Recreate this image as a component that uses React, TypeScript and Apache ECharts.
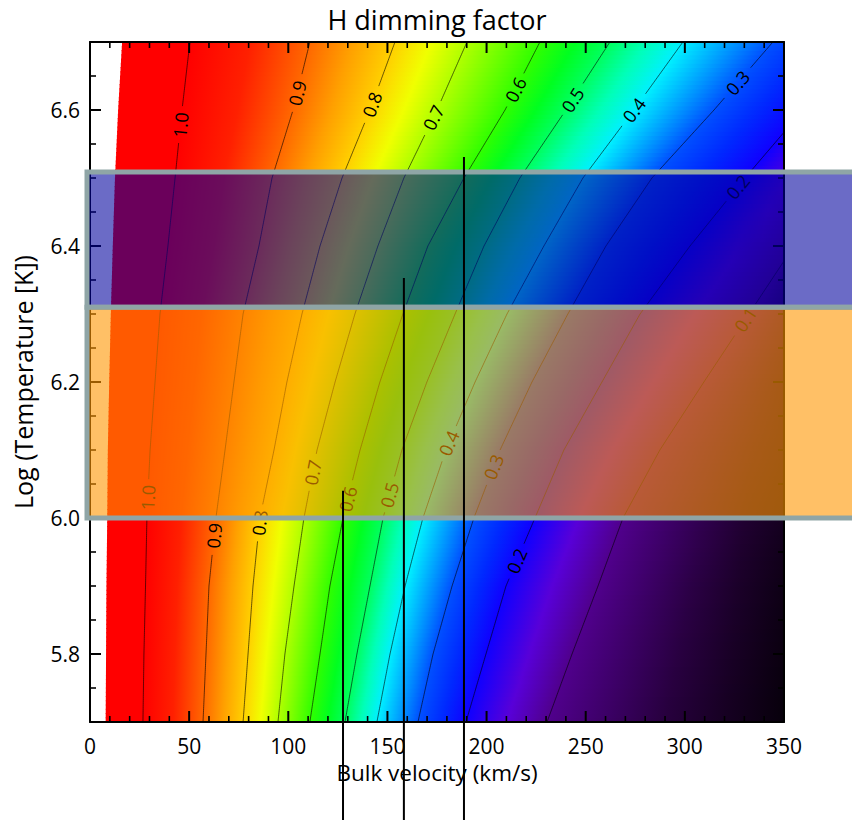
import React, { useEffect, useRef } from "react";
import * as echarts from "echarts";

// ---- data ----
const TITLE = "H dimming factor";
const X_NAME = "Bulk velocity (km/s)";
const Y_NAME = "Log (Temperature [K])";
const X_MIN = 0;
const X_MAX = 350;
const Y_MIN = 5.7;
const Y_MAX = 6.7;
const Y_TICKS = [5.8, 6.0, 6.2, 6.4, 6.6];
const X_MAJOR_STEP = 50;
const X_MINOR_STEP = 10;
const Y_MINOR_STEP = 0.05;

// temperature rows (log T) at which contour crossings were read
const TEMPS = [5.7, 5.8, 5.9, 6.0, 6.1, 6.2, 6.3, 6.4, 6.5, 6.6, 6.7];
const LEVELS = [1.0, 0.9, 0.8, 0.7, 0.6, 0.5, 0.4, 0.3, 0.2, 0.1];
// velocity (km/s) of each contour level at each temperature row
const C10 = [26.7, 27.2, 28.0, 28.7, 30.3, 32.8, 35.3, 39.3, 42.9, 46.4, 50.4];
const C09 = [57.0, 58.5, 60.0, 63.5, 68.1, 72.6, 77.2, 85.2, 91.8, 102.4, 110.9];
const C08 = [77.2, 79.7, 82.2, 85.7, 92.8, 99.3, 106.9, 116.0, 127.1, 141.2, 153.8];
const C07 = [94.8, 98.3, 102.9, 107.9, 114.5, 123.6, 133.6, 145.2, 158.3, 175.0, 190.1];
const C06 = [110.9, 116.0, 121.0, 127.6, 136.2, 146.2, 157.8, 170.4, 188.6, 209.3, 226.9];
const C05 = [128.6, 134.6, 141.2, 147.8, 157.3, 169.9, 184.1, 198.7, 216.8, 240.0, 262.2];
const C04 = [144.7, 151.3, 158.9, 167.9, 179.5, 194.2, 210.3, 228.9, 248.6, 274.3, 299.0];
const C03 = [165.4, 173.0, 182.6, 193.6, 206.8, 222.9, 241.0, 260.2, 283.4, 314.7, 344.4];
const C02 = [189.6, 199.7, 209.8, 224.4, 239.0, 258.2, 277.4, 302.6, 330.3, 359.6, 388.8];
const C01 = [230.5, 243.1, 256.2, 268.8, 287.4, 309.6, 332.3, 355.0, 377.7, 400.0, 423.0];
const CONTOURS = [C10, C09, C08, C07, C06, C05, C04, C03, C02, C01];
// velocity where the computed field begins, per row
const START_V = [7.9, 8.1, 8.3, 8.7, 9.0, 9.7, 10.5, 11.5, 12.6, 14.2, 16.2];
// dimming factor at 350 km/s, per row
const EDGE_VAL = [0.01, 0.015, 0.02, 0.03, 0.04, 0.05, 0.07, 0.1, 0.14, 0.2, 0.29];

// contour labels: level and temperature where each sits
const LABEL_LEVEL = [1.0, 0.9, 0.8, 0.7, 0.6, 0.5, 0.4, 0.3, 0.2, 0.1, 1.0, 0.7, 0.6, 0.5, 0.4, 0.3, 0.9, 0.8, 0.2];
const LABEL_T = [6.578, 6.625, 6.608, 6.589, 6.63, 6.615, 6.6, 6.64, 6.487, 6.292, 6.03, 6.067, 6.028, 6.034, 6.11, 6.075, 5.974, 5.993, 5.937];

// highlighted temperature bands
const BAND_LOW = [6.31, 6.0];
const BAND_HIGH = [6.509, 6.31];
// vertical marker lines
const LINE_V = [127.6, 158.3, 188.6];
const LINE_TOP_T = [6.04, 6.353, 6.531];

// ---- styles ----
const FONT = '"Open Sans", "Noto Sans", sans-serif';
const BAND_FILL = ["rgba(0,0,157,0.58)", "rgba(255,150,0,0.6)"];
const BAND_STROKE = "#8fa5a6";
const COLORMAP: [number, string][] = [
  [0.0, "#000000"], [0.05, "#220034"], [0.1, "#50008c"], [0.15, "#5800d8"],
  [0.2, "#1000ff"], [0.25, "#0028ff"], [0.3, "#0050ff"], [0.35, "#00a0ff"],
  [0.4, "#00f0ff"], [0.45, "#00ffb8"], [0.5, "#00ff60"], [0.55, "#00ff20"],
  [0.6, "#30ff00"], [0.65, "#70ff00"], [0.7, "#b0ff00"], [0.75, "#f0ff00"],
  [0.8, "#ffd000"], [0.85, "#ffa000"], [0.9, "#ff6800"], [0.95, "#ff2000"],
  [1.0, "#ff0000"],
];

function hexToRgb(h: string): number[] {
  const n = parseInt(h.slice(1), 16);
  return [(n >> 16) & 255, (n >> 8) & 255, n & 255];
}
const CMAP_RGB = COLORMAP.map(([v, h]) => [v, hexToRgb(h)] as [number, number[]]);

function colorOf(val: number): string {
  if (val >= 1) return "rgb(255,0,0)";
  if (val <= 0) return "rgb(0,0,0)";
  for (let i = 0; i < CMAP_RGB.length - 1; i++) {
    const [a, ca] = CMAP_RGB[i];
    const [b, cb] = CMAP_RGB[i + 1];
    if (val <= b) {
      const f = (val - a) / (b - a);
      const c = ca.map((x, j) => Math.round(x + (cb[j] - x) * f));
      return `rgb(${c[0]},${c[1]},${c[2]})`;
    }
  }
  return "rgb(255,0,0)";
}

function rowIndex(t: number): [number, number] {
  let i = 0;
  while (i < TEMPS.length - 2 && t > TEMPS[i + 1]) i++;
  const f = (t - TEMPS[i]) / (TEMPS[i + 1] - TEMPS[i]);
  return [i, f];
}
function interpRow(arr: number[], t: number): number {
  const [i, f] = rowIndex(t);
  return arr[i] + (arr[i + 1] - arr[i]) * f;
}

function profile(t: number): number[][] {
  const start = interpRow(START_V, t);
  const edge = interpRow(EDGE_VAL, t);
  const pts: number[][] = [[start, 1.0]];
  CONTOURS.forEach((c, k) => pts.push([interpRow(c, t), LEVELS[k]]));
  const out: number[][] = [];
  for (let j = 0; j < pts.length; j++) {
    if (pts[j][0] <= X_MAX) out.push(pts[j]);
    else {
      const p = pts[j - 1];
      const q = pts[j];
      const f = (X_MAX - p[0]) / (q[0] - p[0]);
      out.push([X_MAX, p[1] + (q[1] - p[1]) * f]);
      return out;
    }
  }
  out.push([X_MAX, edge]);
  return out;
}

function gradientStops(prof: number[][]) {
  const start = prof[0][0];
  const span = X_MAX - start;
  const stops: { offset: number; color: string }[] = [];
  for (let j = 0; j < prof.length - 1; j++) {
    const [v0, a0] = prof[j];
    const [v1, a1] = prof[j + 1];
    const n = 4;
    for (let s = 0; s < n; s++) {
      const v = v0 + ((v1 - v0) * s) / n;
      const a = a0 + ((a1 - a0) * s) / n;
      stops.push({ offset: Math.min(1, Math.max(0, (v - start) / span)), color: colorOf(a) });
    }
  }
  const last = prof[prof.length - 1];
  stops.push({ offset: 1, color: colorOf(last[1]) });
  return stops;
}

export default function App() {
  const ref = useRef<HTMLDivElement>(null);
  useEffect(() => {
    if (!ref.current) return;
    const chart = echarts.init(ref.current, undefined, { renderer: "svg" });

    const heatSeries = {
      type: "custom",
      z: 1,
      silent: true,
      xAxisIndex: 0,
      yAxisIndex: 0,
      data: TEMPS.slice(1).map((t, i) => [0, TEMPS[i]]),
      renderItem: (params: any, api: any) => {
        const i = params.dataIndex;
        const t0 = TEMPS[i];
        const t1 = TEMPS[i + 1];
        const N = 16;
        const children: any[] = [];
        for (let j = 0; j < N; j++) {
          const ta = t0 + ((t1 - t0) * j) / N;
          const tb = t0 + ((t1 - t0) * (j + 1)) / N;
          const prof = profile((ta + tb) / 2);
          const start = prof[0][0];
          const pA = api.coord([start, tb]);
          const pB = api.coord([X_MAX, ta]);
          children.push({
            type: "rect",
            shape: { x: pA[0], y: pA[1] - 0.5, width: pB[0] - pA[0], height: pB[1] - pA[1] + 1 },
            style: {
              fill: { type: "linear", x: 0, y: 0, x2: 1, y2: 0, colorStops: gradientStops(prof) },
            },
          });
        }
        return { type: "group", children };
      },
    };

    const contourSeries = {
      type: "custom",
      z: 2,
      silent: true,
      xAxisIndex: 0,
      yAxisIndex: 0,
      data: LEVELS.map((l) => [0, l]),
      renderItem: (params: any, api: any) => {
        const k = params.dataIndex;
        const level = LEVELS[k];
        const raw = TEMPS.map((t, i) => [CONTOURS[k][i], t]);
        const clipped: number[][] = [];
        for (let i = 0; i < raw.length; i++) {
          const p = raw[i];
          const prev = raw[i - 1];
          const cross = () => {
            const f = (X_MAX - prev[0]) / (p[0] - prev[0]);
            return [X_MAX, prev[1] + (p[1] - prev[1]) * f];
          };
          if (p[0] <= X_MAX) {
            if (i > 0 && prev[0] > X_MAX) clipped.push(cross());
            clipped.push(p);
          } else if (i > 0 && prev[0] <= X_MAX) {
            clipped.push(cross());
          }
        }
        const px = clipped.map((p) => api.coord(p));
        const labels: any[] = [];
        const labelPos: number[][] = [];
        LABEL_LEVEL.forEach((lv, li) => {
          if (Math.abs(lv - level) > 1e-6) return;
          const t = LABEL_T[li];
          const pos = api.coord([interpRow(CONTOURS[k], t), t]);
          const p0 = api.coord([interpRow(CONTOURS[k], t - 0.01), t - 0.01]);
          const p1 = api.coord([interpRow(CONTOURS[k], t + 0.01), t + 0.01]);
          const ang = Math.atan2(-(p1[1] - p0[1]), p1[0] - p0[0]);
          labelPos.push(pos);
          labels.push({
            type: "text",
            x: pos[0],
            y: pos[1],
            rotation: ang,
            z2: 5,
            style: {
              text: level.toFixed(1),
              fill: "#000",
              font: `18px ${FONT}`,
              align: "center",
              verticalAlign: "middle",
              textAlign: "center",
              textVerticalAlign: "middle",
            },
          });
        });
        const R = 18;
        const near = (q: number[]) =>
          labelPos.some((lp) => Math.hypot(q[0] - lp[0], q[1] - lp[1]) < R);
        const segs: number[][][] = [];
        let cur: number[][] = [];
        for (let i = 0; i < px.length - 1; i++) {
          const a = px[i];
          const b = px[i + 1];
          const n = Math.max(1, Math.ceil(Math.hypot(b[0] - a[0], b[1] - a[1]) / 2));
          for (let s = 0; s < n; s++) {
            const q = [a[0] + ((b[0] - a[0]) * s) / n, a[1] + ((b[1] - a[1]) * s) / n];
            if (near(q)) {
              if (cur.length > 1) segs.push(cur);
              cur = [];
            } else cur.push(q);
          }
        }
        const lastP = px[px.length - 1];
        if (lastP && !near(lastP)) cur.push(lastP);
        if (cur.length > 1) segs.push(cur);
        const lines = segs.map((seg) => ({
          type: "polyline",
          shape: { points: seg },
          style: { stroke: "rgba(0,0,0,0.85)", lineWidth: 0.7, fill: null },
        }));
        return { type: "group", children: [...lines, ...labels] };
      },
    };

    const bandSeries = {
      type: "custom",
      z: 5,
      silent: true,
      xAxisIndex: 0,
      yAxisIndex: 0,
      data: BAND_LOW.map((lo, i) => [0, lo, BAND_HIGH[i]]),
      renderItem: (params: any, api: any) => {
        const i = params.dataIndex;
        const yTop = api.coord([0, BAND_HIGH[i]])[1];
        const yBot = api.coord([0, BAND_LOW[i]])[1];
        const x0 = params.coordSys.x - 3;
        return {
          type: "rect",
          shape: { x: x0, y: yTop, width: api.getWidth() - x0 + 20, height: yBot - yTop },
          style: { fill: BAND_FILL[i], stroke: BAND_STROKE, lineWidth: 5 },
        };
      },
    };

    const vlineSeries = {
      type: "custom",
      z: 6,
      silent: true,
      xAxisIndex: 0,
      yAxisIndex: 0,
      data: LINE_V.map((v, i) => [v, LINE_TOP_T[i]]),
      renderItem: (params: any, api: any) => {
        const p = api.coord([api.value(0), api.value(1)]);
        return {
          type: "line",
          shape: { x1: p[0], y1: p[1], x2: p[0], y2: api.getHeight() },
          style: { stroke: "#000", lineWidth: 2 },
        };
      },
    };

    const axisLine = { show: true, onZero: false, lineStyle: { color: "#000", width: 2 } };
    const baseX = {
      type: "value",
      min: X_MIN,
      max: X_MAX,
      interval: X_MAJOR_STEP,
      z: 4,
      axisLine,
      axisTick: { show: false },
      minorTick: { show: false },
      splitLine: { show: false },
      minorSplitLine: { show: false },
    };
    const baseY = {
      type: "value",
      min: Y_MIN,
      max: Y_MAX,
      interval: Y_MINOR_STEP,
      z: 4,
      axisLine,
      axisTick: { show: false },
      splitLine: { show: false },
    };

    chart.setOption({
      animation: false,
      backgroundColor: "#fff",
      grid: { left: 90, top: 42, width: 694, height: 680, outerBoundsMode: "none", containLabel: false },
      xAxis: [
        {
          ...baseX,
          position: "bottom",
          axisLabel: { show: true, fontSize: 21, fontFamily: FONT, color: "#000", margin: 13 },
          name: X_NAME,
          nameLocation: "middle",
          nameGap: 38,
          nameTextStyle: { fontSize: 22.5, fontFamily: FONT, color: "#000" },
        },
        { ...baseX, position: "top", axisLabel: { show: false } },
      ],
      yAxis: [
        {
          ...baseY,
          position: "left",
          axisLabel: {
            show: true,
            customValues: Y_TICKS,
            formatter: (v: number) => v.toFixed(1),
            fontSize: 21,
            fontFamily: FONT,
            color: "#000",
            margin: 10,
          },
          name: Y_NAME,
          nameLocation: "middle",
          nameGap: 55,
          nameTextStyle: { fontSize: 25, fontFamily: FONT, color: "#000" },
        },
        {
          ...baseY,
          position: "right",
          axisLabel: { show: false },
        },
      ],
      series: [heatSeries, contourSeries, bandSeries, vlineSeries],
    });

    // inward ticks on all four sides, positioned through the axis scale (convertToPixel)
    const ticks: any[] = [];
    const toPx = (v: number, t: number) => chart.convertToPixel({ gridIndex: 0 }, [v, t]) as number[];
    const p00 = toPx(X_MIN, Y_MIN);
    const p11 = toPx(X_MAX, Y_MAX);
    const nx = Math.round((X_MAX - X_MIN) / X_MINOR_STEP);
    for (let k = 1; k < nx; k++) {
      const v = X_MIN + k * X_MINOR_STEP;
      const major = Math.abs(v / X_MAJOR_STEP - Math.round(v / X_MAJOR_STEP)) < 1e-6;
      const len = major ? 11 : 6;
      const w = major ? 2 : 1.6;
      const x = toPx(v, Y_MIN)[0];
      ticks.push({ type: "rect", z: 4, silent: true, shape: { x: x - w / 2, y: p00[1] - len, width: w, height: len }, style: { fill: "#000" } });
      ticks.push({ type: "rect", z: 4, silent: true, shape: { x: x - w / 2, y: p11[1], width: w, height: len }, style: { fill: "#000" } });
    }
    const ny = Math.round((Y_MAX - Y_MIN) / Y_MINOR_STEP);
    for (let k = 1; k < ny; k++) {
      const t = Y_MIN + k * Y_MINOR_STEP;
      const major = Y_TICKS.some((yt) => Math.abs(yt - t) < 1e-6);
      const len = major ? 11 : 6;
      const w = major ? 2 : 1.6;
      const y = toPx(X_MIN, t)[1];
      ticks.push({ type: "rect", z: 4, silent: true, shape: { x: p00[0], y: y - w / 2, width: len, height: w }, style: { fill: "#000" } });
      ticks.push({ type: "rect", z: 4, silent: true, shape: { x: p11[0] - len, y: y - w / 2, width: len, height: w }, style: { fill: "#000" } });
    }
    chart.setOption({
      graphic: [
        {
          type: "text",
          x: 437,
          y: 19,
          z: 10,
          style: {
            text: TITLE,
            font: `27px ${FONT}`,
            fill: "#000",
            align: "center",
            textAlign: "center",
            verticalAlign: "middle",
            textVerticalAlign: "middle",
          },
        },
        { type: "group", z: 4, children: ticks },
      ],
    });
    return () => chart.dispose();
  }, []);
  return (
    <div
      ref={ref}
      style={{ position: "absolute", left: 0, top: 0, width: 852, height: 820, background: "#fff" }}
    />
  );
}
